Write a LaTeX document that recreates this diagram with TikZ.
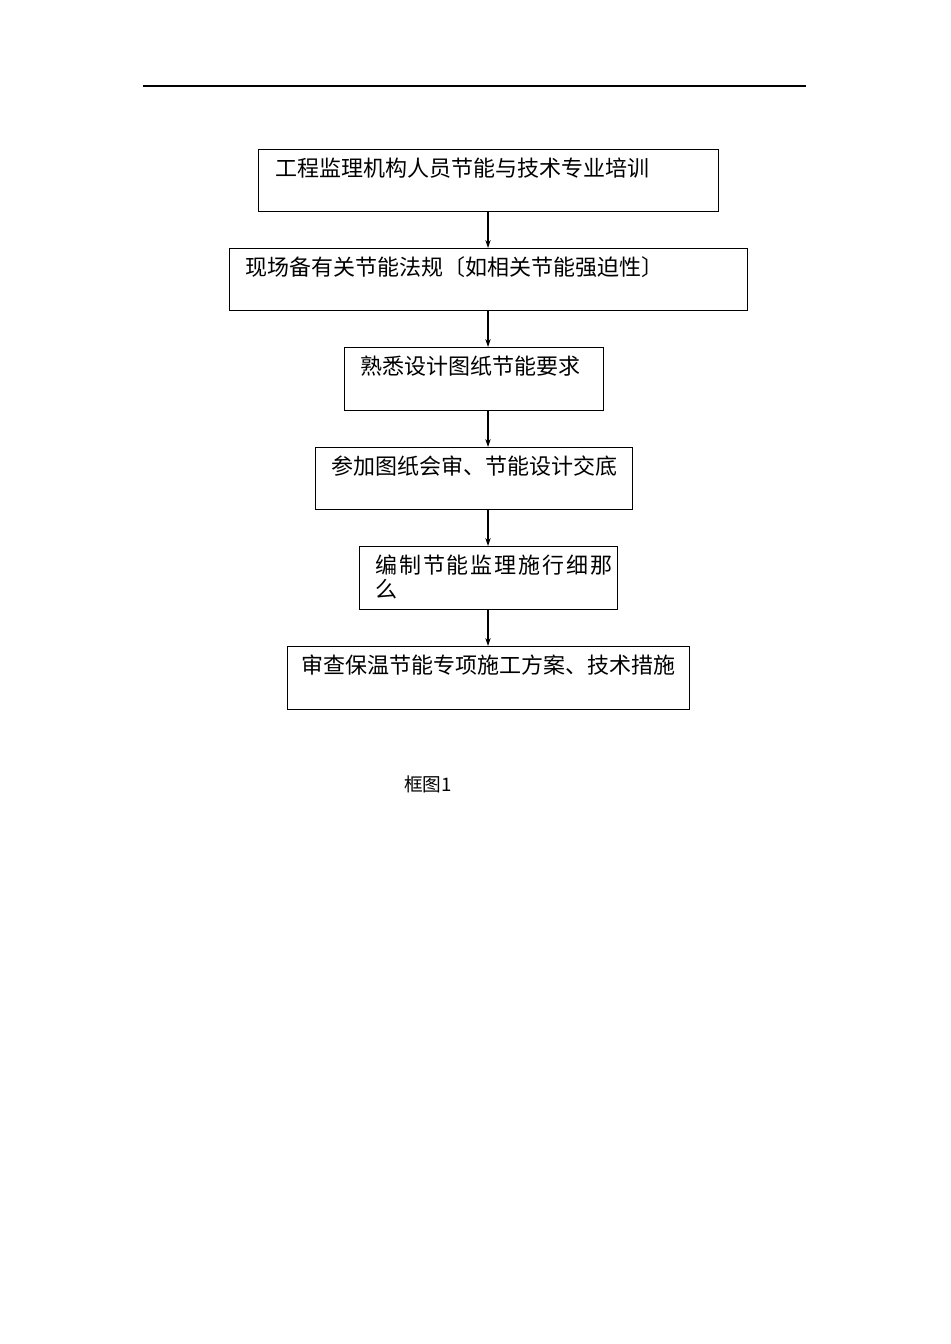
\documentclass[tikz,border=0pt]{standalone}
\usepackage{fontspec}
\newfontfamily\cjk{Noto Sans CJK SC}
\XeTeXlinebreaklocale "zh"
\XeTeXlinebreakskip=0pt plus 1pt
\usetikzlibrary{arrows.meta,positioning}

\begin{document}
\begin{tikzpicture}[
  x=0.75pt, y=-0.75pt,
  stepbox/.style={rectangle, draw, line width=0.8pt, anchor=north west,
    inner sep=0pt, font=\cjk\fontsize{16.5pt}{18pt}\selectfont},
  arr/.style={-{Stealth[length=6pt,width=4pt]}, line width=0.8pt}
]
\useasboundingbox (0,0) rectangle (950,1344);
\fill[white] (0,0) rectangle (950,1344);

% header rule
\draw[line width=0.8pt] (143,86) -- (806,86);

% boxes: \parbox keeps the text at the top left
\node[stepbox, minimum width=345pt, minimum height=46.5pt] (train) at (258,149)
  {\parbox[t][46.5pt][t]{336pt}{\vspace{6pt}\leftskip=8pt 工程监理机构人员节能与技术专业培训}};
\node[stepbox, minimum width=388.5pt, minimum height=46.5pt] (laws) at (229,248)
  {\parbox[t][46.5pt][t]{380pt}{\vspace{6pt}\leftskip=8pt 现场备有关节能法规〔如相关节能强迫性〕}};
\node[stepbox, minimum width=194pt, minimum height=47pt] (design) at (344,347)
  {\parbox[t][47pt][t]{186pt}{\vspace{6pt}\leftskip=8pt 熟悉设计图纸节能要求}};
\node[stepbox, minimum width=238pt, minimum height=46.5pt] (review) at (315,447)
  {\parbox[t][46.5pt][t]{230pt}{\vspace{6pt}\leftskip=8pt 参加图纸会审、节能设计交底}};
\node[stepbox, minimum width=193.5pt, minimum height=47pt] (rules) at (359,546)
  {\parbox[t][47pt][t]{186pt}{\vspace{6pt}\leftskip=8pt 编制节能监理施行细那么}};
\node[stepbox, minimum width=301.5pt, minimum height=47pt] (plan) at (287,646)
  {\parbox[t][47pt][t]{296pt}{\vspace{6pt}\leftskip=8pt 审查保温节能专项施工方案、技术措施}};

% connectors
\draw[arr] (train.south -| 488,0) -- (laws.north -| 488,0);
\draw[arr] (laws.south -| 488,0) -- (design.north -| 488,0);
\draw[arr] (design.south -| 488,0) -- (review.north -| 488,0);
\draw[arr] (review.south -| 488,0) -- (rules.north -| 488,0);
\draw[arr] (rules.south -| 488,0) -- (plan.north -| 488,0);

% caption
\node[font=\cjk\fontsize{14pt}{16pt}\selectfont] (cap) at (428,784) {框图1};
\end{tikzpicture}
\end{document}
